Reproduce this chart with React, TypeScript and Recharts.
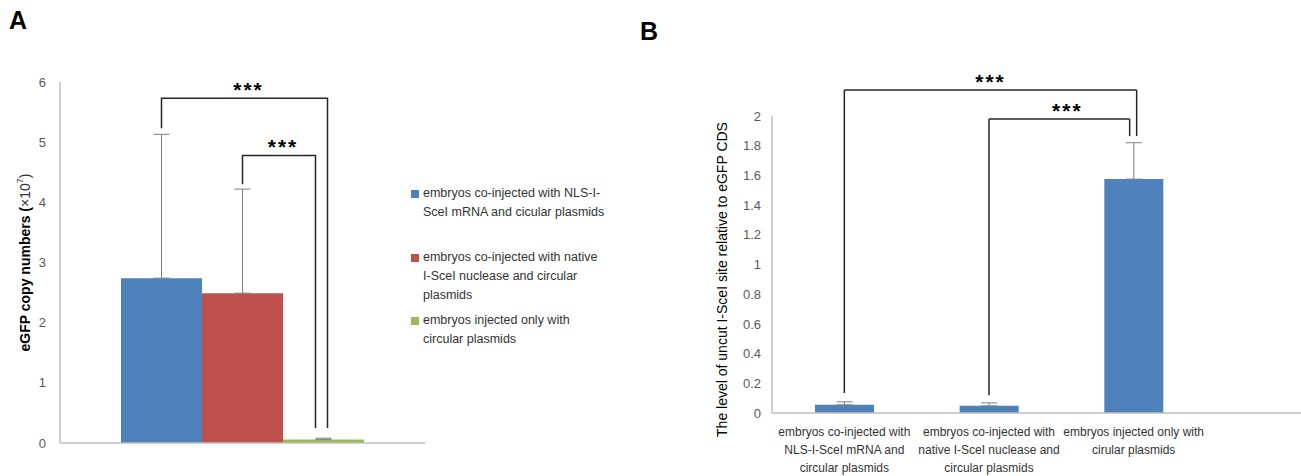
import React from 'react';
import { BarChart, Bar, XAxis, YAxis, ErrorBar, Legend, LabelList, ReferenceLine } from 'recharts';

// ---- panel A ----
const groupA = ['eGFP'];
const seriesA = [
  'embryos co-injected with NLS-I-SceI mRNA and cicular plasmids',
  'embryos co-injected with native I-SceI nuclease and circular plasmids',
  'embryos injected only with circular plasmids',
];
const legendLinesA = [
  ['embryos co-injected with NLS-I-', 'SceI mRNA and cicular plasmids'],
  ['embryos co-injected with native', 'I-SceI nuclease and circular', 'plasmids'],
  ['embryos injected only with', 'circular plasmids'],
];
const meansA = [2.74, 2.49, 0.06];
const errA = [2.39, 1.73, 0.02];
const ticksA = [0, 1, 2, 3, 4, 5, 6];
const colorsA = ['#4F81BD', '#C0504D', '#9BBB59'];
// bracket levels (data units): top, left leg bottom, right leg bottom
const bigBracketA = [5.73, 5.23, 0.25];
const smallBracketA = [4.78, 4.3, 0.25];

// ---- panel B ----
const categoriesB = [
  'embryos co-injected with NLS-I-SceI mRNA and circular plasmids',
  'embryos co-injected with native I-SceI nuclease and circular plasmids',
  'embryos injected only with cirular plasmids',
];
const tickLinesB = [
  ['embryos co-injected with', 'NLS-I-SceI mRNA and', 'circular plasmids'],
  ['embryos co-injected with', 'native I-SceI nuclease and', 'circular plasmids'],
  ['embryos injected only with', 'cirular plasmids'],
];
const meansB = [0.055, 0.048, 1.575];
const errB = [0.02, 0.02, 0.245];
const ticksB = [0, 0.2, 0.4, 0.6, 0.8, 1, 1.2, 1.4, 1.6, 1.8, 2];
// from, to, top, left bottom, right bottom, right leg px shift
const bracketsB = [
  { from: 0, to: 2, top: 2.175, leftBottom: 0.135, rightBottom: 1.865, dx: 3, starDx: 0 },
  { from: 1, to: 2, top: 1.98, leftBottom: 0.12, rightBottom: 1.865, dx: -4, starDx: 8 },
];

const FONT = '"Liberation Sans", Arial, sans-serif';
const AXIS = '#BFBFBF';
const TICK = '#595959';
const INK = '#262626';

const dataA = groupA.map((g) => {
  const row: any = { group: g };
  meansA.forEach((m, i) => {
    row['s' + i] = m;
    row['e' + i] = [0, errA[i]];
  });
  return row;
});

const dataB = categoriesB.map((c, i) => ({ cat: c, mean: meansB[i], err: [0, errB[i]] }));

const Stars = ({ x, y }: { x: number; y: number }) => (
  <text x={x} y={y + 7} textAnchor="middle" fontFamily="Arial, sans-serif" fontWeight="bold" fontSize={21} letterSpacing={2} fill="#000">
    ***
  </text>
);

// brackets of panel A, laid out from the blue bar's geometry
const BracketsA = (props: any) => {
  const vb = props.viewBox ?? props;
  const { x, y, width, height } = vb;
  const value = Number(props.value);
  if (!value || !height) return null;
  const base = y + height;
  const toY = (v: number) => base - (v / value) * height;
  const c0 = x + width / 2;
  const c1 = x + width * 1.5;
  const c2 = x + width * 2.5;
  const draw = (l: number, r: number, lv: number[]) => {
    const [top, lb, rb] = lv;
    const ty = toY(top);
    return (
      <g>
        <path d={`M${l},${toY(lb)} V${ty} H${r} V${toY(rb)}`} fill="none" stroke={INK} strokeWidth={1.5} />
        <Stars x={(l + r) / 2 + 4} y={ty - 8} />
      </g>
    );
  };
  return (
    <g>
      {draw(c0, c2 + 4, bigBracketA)}
      {draw(c1, c2 - 8, smallBracketA)}
    </g>
  );
};

const LegendA = () => {
  const gaps = [0, 26, 6];
  return (
    <div style={{ fontFamily: FONT, fontSize: 12.5, color: '#333', lineHeight: '19px' }}>
      {seriesA.map((s, i) => (
        <div key={s} style={{ display: 'flex', marginTop: gaps[i] }}>
          <div style={{ width: 8, height: 8, background: colorsA[i], marginTop: 6, marginRight: 4, flex: 'none' }} />
          <div>
            {legendLinesA[i].map((l) => (
              <div key={l}>{l}</div>
            ))}
          </div>
        </div>
      ))}
    </div>
  );
};

const TickB = (props: any) => {
  const { x, y, index } = props;
  const lines = tickLinesB[index] ?? [];
  return (
    <text x={x} y={y} textAnchor="middle" fontFamily={FONT} fontSize={12} fill="#333">
      {lines.map((l, i) => (
        <tspan key={i} x={x} dy={i === 0 ? 23 : 18}>
          {l}
        </tspan>
      ))}
    </text>
  );
};

const bracketLine = (dx1: number, dx2: number, star?: number) => (p: any) => (
  <g>
    <line x1={p.x1 + dx1} y1={p.y1} x2={p.x2 + dx2} y2={p.y2} stroke={INK} strokeWidth={1.5} />
    {star !== undefined && <Stars x={(p.x1 + p.x2 + dx2) / 2 + star} y={p.y1 - 8} />}
  </g>
);

export default function App() {
  return (
    <div style={{ position: 'absolute', left: 0, top: 0, width: 1301, height: 476, background: '#fff', overflow: 'hidden' }}>
      <div style={{ position: 'absolute', left: 9, top: 6, fontFamily: 'Arial, sans-serif', fontWeight: 'bold', fontSize: 25 }}>A</div>
      <div style={{ position: 'absolute', left: 640, top: 17, fontFamily: 'Arial, sans-serif', fontWeight: 'bold', fontSize: 25 }}>B</div>

      <div style={{ position: 'absolute', left: 0, top: 0 }}>
        <BarChart width={640} height={476} data={dataA} margin={{ top: 82, right: 215, bottom: 0, left: 0 }} barCategoryGap={61} barGap={0}>
          <XAxis dataKey="group" tick={false} tickLine={false} height={33} axisLine={{ stroke: AXIS, strokeWidth: 1.5 }} />
          <YAxis
            width={60}
            domain={[0, 6]}
            ticks={ticksA}
            tickLine={false}
            tickSize={0}
            tickMargin={14}
            axisLine={{ stroke: AXIS, strokeWidth: 1.5 }}
            tick={{ fill: TICK, fontSize: 13, fontFamily: FONT }}
            label={{
              content: (p: any) => {
                const vb = p.viewBox;
                const cx = vb.x + 25;
                const cy = vb.y + vb.height / 2;
                return (
                  <text x={cx} y={cy} transform={`rotate(-90 ${cx} ${cy})`} textAnchor="middle" dominantBaseline="central" fontFamily={FONT} fontSize={14} fill="#000">
                    <tspan fontWeight="bold">eGFP copy numbers (</tspan>
                    <tspan fill="#333">×10</tspan>
                    <tspan fill="#333" fontSize={9} dy={-5}>7</tspan>
                    <tspan fill="#333" dy={5}>)</tspan>
                  </text>
                );
              },
            }}
          />
          <Legend
            layout="horizontal"
            verticalAlign="middle"
            align="center"
            wrapperStyle={{ left: 411, top: 184, width: 225 }}
            content={() => <LegendA />}
          />
          {seriesA.map((name, i) => (
            <Bar key={name} dataKey={'s' + i} name={name} fill={colorsA[i]} isAnimationActive={false}>
              <ErrorBar dataKey={'e' + i} width={8} stroke="#7F7F7F" strokeWidth={1} direction="y" />
              {i === 0 && <LabelList dataKey="s0" content={BracketsA} />}
            </Bar>
          ))}
        </BarChart>
      </div>

      <div style={{ position: 'absolute', left: 640, top: 0 }}>
        <BarChart width={661} height={476} data={dataB} margin={{ top: 116, right: 0, bottom: 0, left: 0 }} barCategoryGap={43}>
          <XAxis
            dataKey="cat"
            height={63}
            tickLine={false}
            tickSize={0}
            tickMargin={0}
            interval={0}
            padding={{ left: 0, right: 95 }}
            axisLine={{ stroke: AXIS, strokeWidth: 1.5 }}
            tick={<TickB />}
          />
          <YAxis
            width={132}
            domain={[0, 2]}
            ticks={ticksB}
            tickLine={false}
            tickSize={0}
            tickMargin={11}
            axisLine={{ stroke: AXIS, strokeWidth: 1.5 }}
            tick={{ fill: TICK, fontSize: 13, fontFamily: FONT }}
            label={{
              content: (p: any) => {
                const vb = p.viewBox;
                const cx = vb.x + 82;
                const cy = vb.y + vb.height / 2 + 15;
                return (
                  <text x={cx} y={cy} transform={`rotate(-90 ${cx} ${cy})`} textAnchor="middle" dominantBaseline="central" fontFamily={FONT} fontSize={14} fill="#000">
                    The level of uncut I-SceI site relative to eGFP CDS
                  </text>
                );
              },
            }}
          />
          <Bar dataKey="mean" fill="#4F81BD" isAnimationActive={false}>
            <ErrorBar dataKey="err" width={8} stroke="#7F7F7F" strokeWidth={1} direction="y" />
          </Bar>
          {bracketsB.map((b, k) => [
            <ReferenceLine
              key={'l' + k}
              ifOverflow="visible"
              segment={[{ x: categoriesB[b.from], y: b.leftBottom }, { x: categoriesB[b.from], y: b.top }]}
              shape={bracketLine(0, 0)}
            />,
            <ReferenceLine
              key={'t' + k}
              ifOverflow="visible"
              segment={[{ x: categoriesB[b.from], y: b.top }, { x: categoriesB[b.to], y: b.top }]}
              shape={bracketLine(0, b.dx, b.starDx)}
            />,
            <ReferenceLine
              key={'r' + k}
              ifOverflow="visible"
              segment={[{ x: categoriesB[b.to], y: b.top }, { x: categoriesB[b.to], y: b.rightBottom }]}
              shape={bracketLine(b.dx, b.dx)}
            />,
          ])}
        </BarChart>
      </div>
    </div>
  );
}
